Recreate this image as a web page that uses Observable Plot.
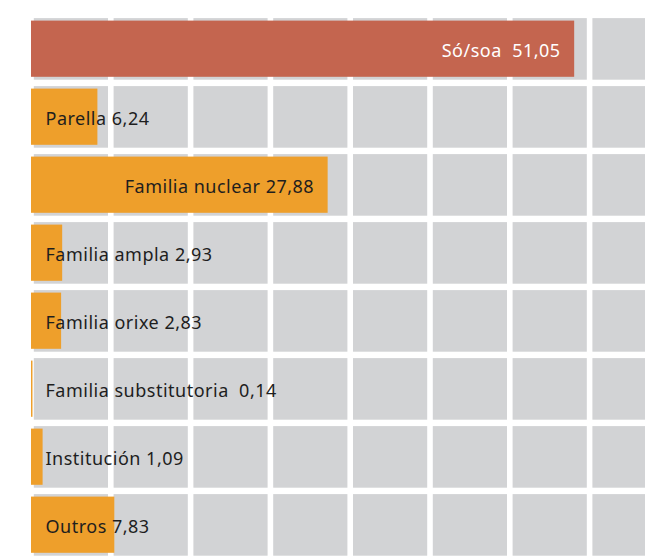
<!DOCTYPE html>
<html>
<head>
<meta charset="utf-8">
<script src="https://cdn.jsdelivr.net/npm/d3@7"></script>
<script src="https://cdn.jsdelivr.net/npm/@observablehq/plot@0.6"></script>
<style>
  html, body { margin: 0; padding: 0; background: #fff; overflow: hidden; }
  #chart svg { display: block; }
</style>
</head>
<body>
<div id="chart"></div>
<script>
const categories = ["Só/soa", "Parella", "Familia nuclear", "Familia ampla", "Familia orixe", "Familia substitutoria", "Institución", "Outros"];
const values = [51.05, 6.24, 27.88, 2.93, 2.83, 0.14, 1.09, 7.83];
const labelGaps = ["\u00a0 ", " ", " ", " ", " ", "\u00a0 ", " ", " "];
const gridTicks = [0, 7.5, 15, 22.5, 30, 37.5, 45, 52.5, 60];
const gridStep = 7.5;
const insideLabels = ["Só/soa", "Familia nuclear"];
const highlight = "Só/soa";

const data = categories.map((c, i) => ({
  category: c,
  value: values[i],
  label: c + labelGaps[i] + values[i].toFixed(2).replace(".", ","),
  inside: insideLabels.includes(c)
}));
const cells = categories.flatMap(c => gridTicks.map(t => ({category: c, x1: t, x2: t + gridStep})));

const font = "'Noto Sans', sans-serif";
const chart = Plot.plot({
  width: 645,
  height: 556,
  margin: 0,
  style: {fontFamily: font, background: "#fff"},
  x: {domain: [0, 60], range: [31, 669.4], axis: null},
  y: {domain: categories, range: [11.4, 563], padding: 0, axis: null},
  marks: [
    Plot.rect(cells, {x1: "x1", x2: "x2", y: "category", fill: "#d2d3d5", insetLeft: 2.8, insetRight: 2.8, insetTop: 3.1, insetBottom: 3.3}),
    Plot.barX(data, {x: "value", y: "category", fill: d => d.category === highlight ? "#c4654f" : "#ee9f2b", insetTop: 5.6, insetBottom: 6.2}),
    Plot.text(data.filter(d => d.inside), {x: "value", y: "category", text: "label", textAnchor: "end", dx: -14, dy: 1.5, fill: d => d.category === highlight ? "#ffffff" : "#1e1e1e", fontSize: 18, fontFamily: font}),
    Plot.text(data.filter(d => !d.inside), {x: 0, y: "category", text: "label", textAnchor: "start", dx: 14, dy: 1.5, fill: "#1e1e1e", fontSize: 18, fontFamily: font})
  ]
});
chart.querySelectorAll("text").forEach(t => t.setAttribute("letter-spacing", "0.5"));
document.getElementById("chart").append(chart);
</script>
</body>
</html>
